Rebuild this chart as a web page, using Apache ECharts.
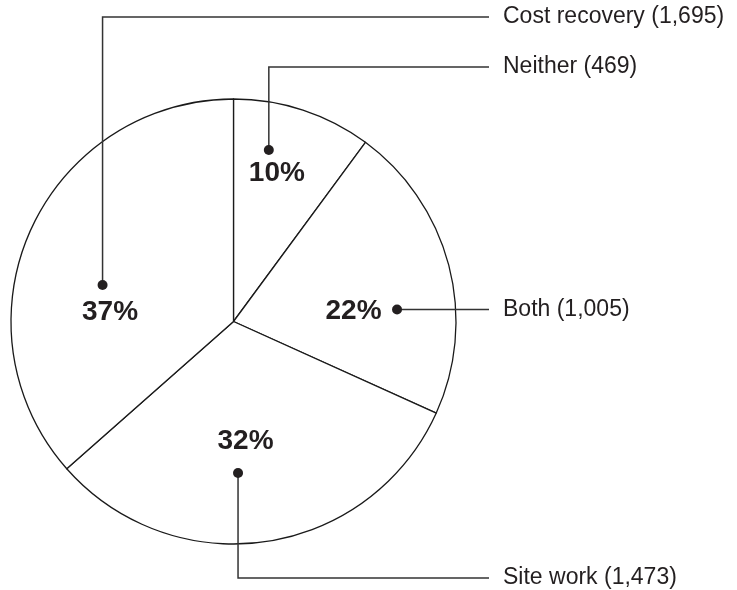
<!DOCTYPE html>
<html><head><meta charset="utf-8">
<script src="https://cdn.jsdelivr.net/npm/echarts@6/dist/echarts.min.js"></script>
<style>html,body{margin:0;padding:0;background:#fff}#chart{width:737px;height:590px}</style>
</head><body><div id="chart"></div>
<script>
// ---- data ----
const categories = ['Neither', 'Both', 'Site work', 'Cost recovery'];
const counts = [469, 1005, 1473, 1695];

// ---- layout / style ----
const CX = 233.5, CY = 321.5, R = 222.5;
const anchorAngleFrac = [0.32, 0.634, 0.56, 0.434];
const anchorRadiusFrac = [0.787, 0.737, 0.681, 0.611];
const pctOffset = [[8, 23], [-43.5, 1.5], [7.5, -32], [7.5, 27]];
const rowY = [67, null, 578, 17];
const lineEndX = 489, textX = 503;
const FONT = '"Liberation Sans", Arial, Helvetica, sans-serif';
const INK = '#231f20';

const total = counts.reduce((a, b) => a + b, 0);
const cum = []; let acc = 0;
counts.forEach(v => { cum.push(acc); acc += v; });
function anchor(i) {
  const a = (cum[i] + counts[i] * anchorAngleFrac[i]) / total * 2 * Math.PI;
  const r = R * anchorRadiusFrac[i];
  return [CX + r * Math.sin(a), CY - r * Math.cos(a)];
}
const pieData = categories.map((n, i) => ({ name: n, value: counts[i] }));

const chart = echarts.init(document.getElementById('chart'), null, { renderer: 'canvas' });
chart.setOption({
  animation: false,
  backgroundColor: '#fff',
  series: [
    {
      type: 'pie',
      z: 1,
      center: [CX, CY],
      radius: R,
      startAngle: 90,
      clockwise: true,
      silent: true,
      avoidLabelOverlap: false,
      data: pieData,
      itemStyle: { color: '#fff', borderColor: '#1a1a1a', borderWidth: 1.3 },
      emphasis: { disabled: true },
      label: {
        show: true,
        position: 'inside',
        color: INK,
        fontFamily: FONT,
        fontWeight: 'bold',
        fontSize: 28,
        formatter: p => Math.round(p.value / total * 100) + '%'
      },
      labelLine: { show: false },
      labelLayout: p => {
        const [x, y] = anchor(p.dataIndex);
        const o = pctOffset[p.dataIndex];
        return { x: x + o[0], y: y + o[1], align: 'center', verticalAlign: 'middle' };
      }
    },
    {
      type: 'pie',
      z: 5,
      center: [CX, CY],
      radius: R,
      startAngle: 90,
      clockwise: true,
      silent: true,
      avoidLabelOverlap: false,
      data: pieData,
      itemStyle: { color: 'rgba(0,0,0,0)', borderWidth: 0 },
      emphasis: { disabled: true },
      label: {
        show: true,
        position: 'outside',
        color: INK,
        fontFamily: FONT,
        fontSize: 23,
        formatter: p => p.name + ' (' + p.value.toLocaleString('en-US') + ')'
      },
      labelLine: { show: true, lineStyle: { color: '#333', width: 1.5 } },
      labelLayout: p => {
        const i = p.dataIndex;
        const [x, y] = anchor(i);
        const ly = rowY[i] == null ? y : rowY[i];
        return {
          x: textX, y: ly, align: 'left', verticalAlign: 'middle',
          labelLinePoints: [[x, y], [x, ly], [lineEndX, ly]]
        };
      }
    }
  ],
  graphic: counts.map((v, i) => {
    const [x, y] = anchor(i);
    return { type: 'circle', shape: { cx: x, cy: y, r: 5 }, style: { fill: INK }, z: 100 };
  })
});
</script>
</body></html>
